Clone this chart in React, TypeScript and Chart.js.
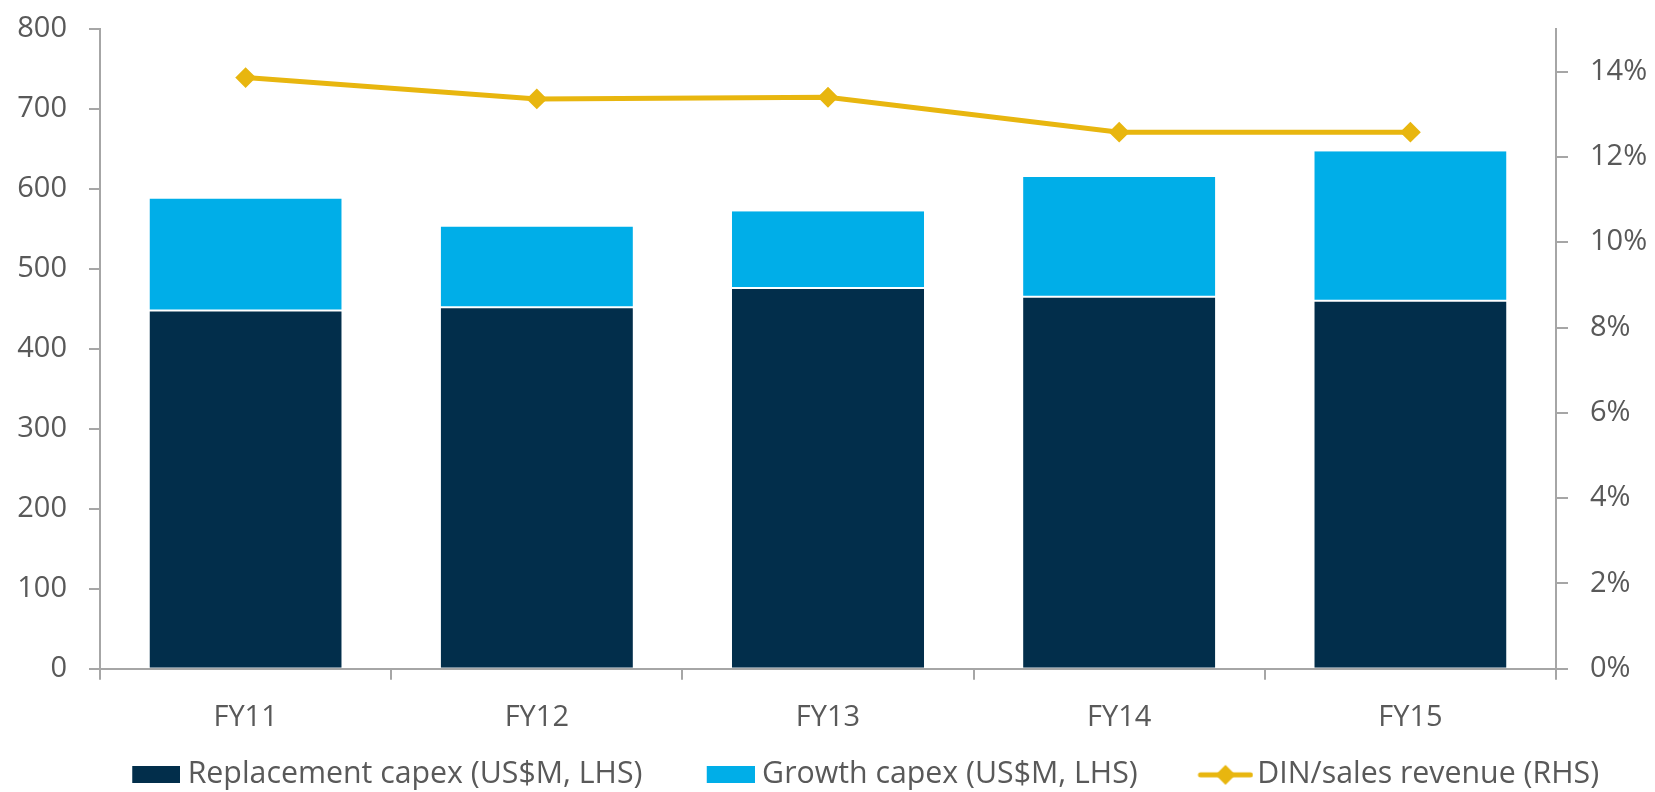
import React, { useEffect, useRef } from 'react';
import { Chart, registerables } from 'chart.js';

Chart.register(...registerables);

// Fiscal years on the category axis
const categories = ['FY11', 'FY12', 'FY13', 'FY14', 'FY15'];
// Capex split (US$M, left axis)
const replacementCapex = [448, 452, 476, 465, 460];
const growthCapex = [140, 101, 96, 150, 187];
// DIN / sales revenue (%, right axis)
const dinSalesRevenue = [13.86, 13.36, 13.4, 12.58, 12.58];

// Axis ticks
const leftTicks = [0, 100, 200, 300, 400, 500, 600, 700, 800];
const rightTicks = [0, 2, 4, 6, 8, 10, 12, 14];
const rightMax = 15;

const NAVY = '#022E4B';
const BLUE = '#00AEE8';
const GOLD = '#E8B60F';
const AXIS = '#A6A6A6';
const TEXT = '#595959';
const FONT = "'Open Sans', 'DejaVu Sans', sans-serif";
const TICK_SIZE = 29;
const LEGEND_SIZE = 30.3;

// Legend item geometry: each slot holds a leading gap, the swatch, then the label
const SLOT = 104.5;
const LEGEND_LEFT = 68;
const LEGEND_DY = 8;

function rectIcon(color: string): HTMLCanvasElement {
  const c = document.createElement('canvas');
  c.width = Math.round(SLOT + 15);
  c.height = 17;
  const ctx = c.getContext('2d')!;
  ctx.fillStyle = color;
  ctx.fillRect(c.width - 48, 0, 48, 17);
  return c;
}

function lineIcon(color: string): HTMLCanvasElement {
  const c = document.createElement('canvas');
  c.width = Math.round(SLOT + 22);
  c.height = 22;
  const ctx = c.getContext('2d')!;
  const x0 = c.width - 56;
  ctx.strokeStyle = color;
  ctx.lineWidth = 5;
  ctx.lineCap = 'round';
  ctx.beginPath();
  ctx.moveTo(x0 + 3, 11);
  ctx.lineTo(c.width - 3, 11);
  ctx.stroke();
  const cx = x0 + 28;
  ctx.fillStyle = color;
  ctx.beginPath();
  ctx.moveTo(cx, 1);
  ctx.lineTo(cx + 10, 11);
  ctx.lineTo(cx, 21);
  ctx.lineTo(cx - 10, 11);
  ctx.closePath();
  ctx.fill();
  return c;
}

// Places the legend row at a fixed start and nudges it down a little
const legendPlacement = {
  id: 'legendPlacement',
  afterLayout(chart: any) {
    const l = chart.legend;
    if (!l) return;
    l.left = LEGEND_LEFT;
    l.top += LEGEND_DY;
    l.bottom += LEGEND_DY;
  },
};

// Vertical axes: fixed width, and no extra space reserved above the top tick
const fitVertical = (width: number) => (scale: any) => {
  scale.width = width;
  scale.paddingTop = 0;
};

export default function App() {
  const canvasRef = useRef<HTMLCanvasElement | null>(null);

  useEffect(() => {
    const canvas = canvasRef.current;
    if (!canvas) return;
    const icons = [rectIcon(NAVY), rectIcon(BLUE), lineIcon(GOLD)];

    const chart = new Chart(canvas, {
      type: 'bar',
      data: {
        labels: categories,
        datasets: [
          {
            type: 'bar',
            label: 'Replacement capex (US$M, LHS)',
            data: replacementCapex,
            backgroundColor: NAVY,
            borderColor: '#ffffff',
            borderWidth: { top: 1, left: 0, right: 0, bottom: 0 },
            borderSkipped: false,
            stack: 'capex',
            yAxisID: 'y',
            barPercentage: 0.66,
            categoryPercentage: 1,
          },
          {
            type: 'bar',
            label: 'Growth capex (US$M, LHS)',
            data: growthCapex,
            backgroundColor: BLUE,
            borderColor: '#ffffff',
            borderWidth: { top: 0, left: 0, right: 0, bottom: 1 },
            borderSkipped: false,
            stack: 'capex',
            yAxisID: 'y',
            barPercentage: 0.66,
            categoryPercentage: 1,
          },
          {
            type: 'line',
            label: 'DIN/sales revenue (RHS)',
            data: dinSalesRevenue,
            borderColor: GOLD,
            backgroundColor: GOLD,
            borderWidth: 5,
            tension: 0,
            pointStyle: 'rectRot',
            pointRadius: 9,
            pointBorderWidth: 2,
            pointBackgroundColor: GOLD,
            pointBorderColor: GOLD,
            yAxisID: 'y1',
          },
        ] as any,
      },
      options: {
        responsive: true,
        maintainAspectRatio: false,
        animation: false,
        layout: { padding: { top: 29, left: 0, right: 0, bottom: 0 } },
        plugins: {
          tooltip: { enabled: false },
          legend: {
            position: 'bottom',
            align: 'start',
            labels: {
              usePointStyle: true,
              pointStyleWidth: SLOT,
              boxHeight: 17,
              padding: 0,
              color: TEXT,
              font: { family: FONT, size: LEGEND_SIZE },
              generateLabels: (ch: any) =>
                Chart.defaults.plugins.legend.labels
                  .generateLabels(ch)
                  .map((item: any) => ({ ...item, pointStyle: icons[item.datasetIndex] })),
            },
          },
        },
        scales: {
          x: {
            stacked: true,
            offset: true,
            grid: {
              offset: true,
              drawOnChartArea: false,
              drawTicks: true,
              tickLength: 11,
              lineWidth: 2,
              color: AXIS,
            },
            border: { color: AXIS, width: 2 },
            ticks: {
              padding: 21,
              color: TEXT,
              font: { family: FONT, size: TICK_SIZE },
            },
            afterFit: (scale: any) => {
              scale.height = 83;
            },
          },
          y: {
            stacked: true,
            position: 'left',
            min: 0,
            max: leftTicks[leftTicks.length - 1],
            afterBuildTicks: (scale: any) => {
              scale.ticks = leftTicks.map((v) => ({ value: v }));
            },
            grid: {
              drawOnChartArea: false,
              drawTicks: true,
              tickLength: 11,
              lineWidth: 2,
              color: AXIS,
            },
            border: { color: AXIS, width: 2 },
            ticks: {
              padding: 22,
              color: TEXT,
              font: { family: FONT, size: TICK_SIZE },
            },
            afterFit: fitVertical(100),
          },
          y1: {
            stacked: false,
            position: 'right',
            min: 0,
            max: rightMax,
            afterBuildTicks: (scale: any) => {
              scale.ticks = rightTicks.map((v) => ({ value: v }));
            },
            grid: {
              drawOnChartArea: false,
              drawTicks: true,
              tickLength: 12,
              lineWidth: 2,
              color: AXIS,
            },
            border: { color: AXIS, width: 2 },
            ticks: {
              padding: 22,
              color: TEXT,
              font: { family: FONT, size: TICK_SIZE },
              callback: (v: any) => `${v}%`,
            },
            afterFit: fitVertical(99),
          },
        },
      } as any,
      plugins: [legendPlacement],
    });

    return () => chart.destroy();
  }, []);

  return (
    <div style={{ position: 'absolute', left: 0, top: 0, width: 1655, height: 792, background: '#ffffff' }}>
      <canvas ref={canvasRef} />
    </div>
  );
}
